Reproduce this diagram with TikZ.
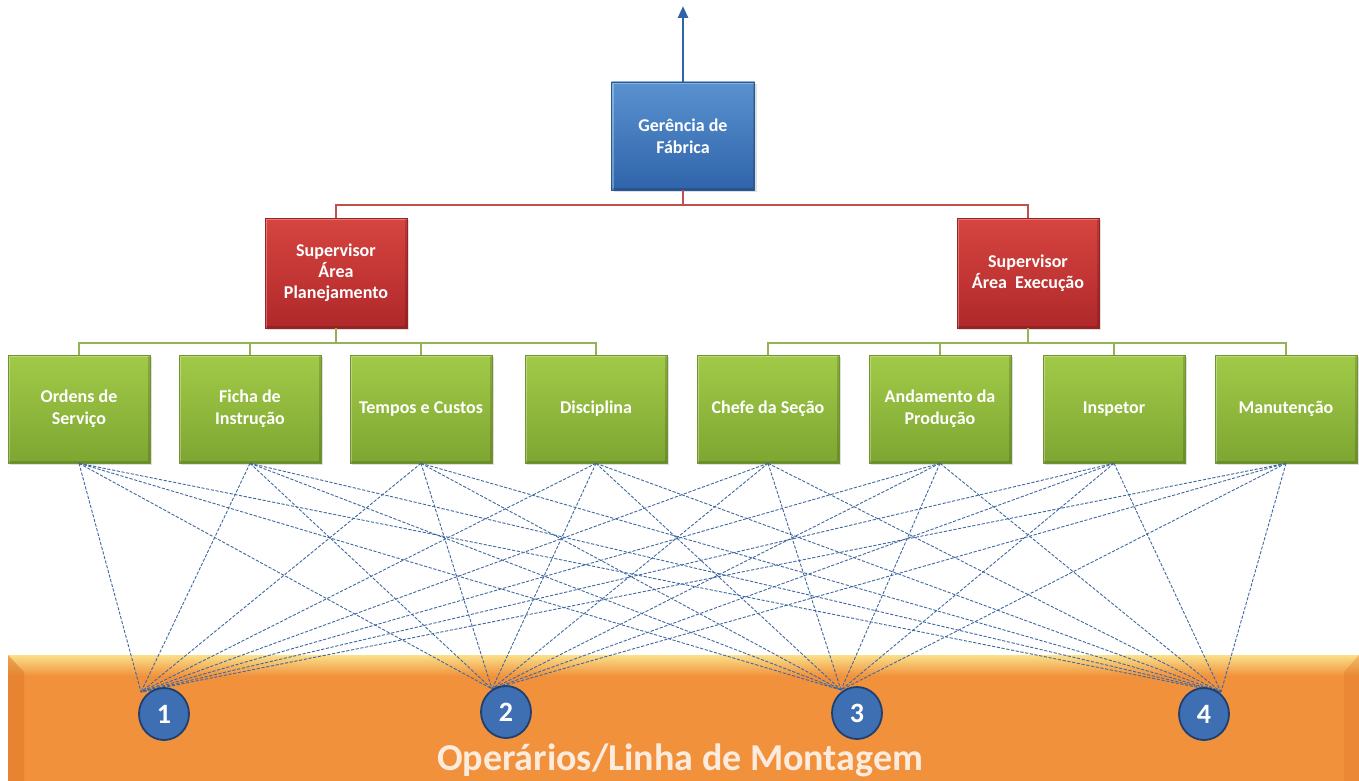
\documentclass[tikz,border=0pt]{standalone}
\usepackage{fontspec}
\setmainfont{Carlito}
\usetikzlibrary{arrows.meta,shadows,shapes.geometric}
\definecolor{bluetop}{HTML}{5A92D0}
\definecolor{bluebot}{HTML}{2F64AA}
\definecolor{blueedge}{HTML}{2A5895}
\definecolor{redtop}{HTML}{D64540}
\definecolor{redbot}{HTML}{B0282A}
\definecolor{rededge}{HTML}{9A2224}
\definecolor{greentop}{HTML}{A2CA48}
\definecolor{greenbot}{HTML}{7DA632}
\definecolor{greenedge}{HTML}{6E9330}
\definecolor{redline}{HTML}{C0504D}
\definecolor{greenline}{HTML}{93B354}
\definecolor{dashblue}{HTML}{3F68A0}
\definecolor{orangeband}{HTML}{F1913C}
\definecolor{orangelight}{HTML}{FBE08A}
\definecolor{orangedark}{HTML}{DE7A2A}
\definecolor{circfill}{HTML}{3D6FB2}
\definecolor{circedge}{HTML}{213F6E}
\definecolor{bandtext}{HTML}{FDEBDD}
\tikzset{
  boxbase/.style={rectangle, inner sep=2pt, align=center, text=white,
    font=\fontsize{18}{22}\selectfont\bfseries, line width=0.6pt,
    drop shadow={shadow xshift=2pt, shadow yshift=-2pt, opacity=0.25},
    path picture={
      \draw[white, opacity=0.30, line width=4pt]
        (path picture bounding box.south west) -- (path picture bounding box.north west)
        -- (path picture bounding box.north east);
      \draw[black, opacity=0.15, line width=4pt]
        (path picture bounding box.north east) -- (path picture bounding box.south east)
        -- (path picture bounding box.south west);
    }},
  bluebox/.style={boxbase, minimum width=143pt, minimum height=108pt,
    top color=bluetop, bottom color=bluebot, draw=blueedge},
  redbox/.style={boxbase, minimum width=142pt, minimum height=110pt,
    top color=redtop, bottom color=redbot, draw=rededge,
    font=\fontsize{18}{21}\selectfont\bfseries},
  greenbox/.style={boxbase, minimum width=142pt, minimum height=108pt,
    top color=greentop, bottom color=greenbot, draw=greenedge},
  redconn/.style={draw=redline, line width=2.6pt},
  greenconn/.style={draw=greenline, line width=2.6pt},
  upconn/.style={draw=bluebot, line width=2.6pt, -{Triangle[length=12pt,width=10pt]}},
  dashconn/.style={draw=dashblue, line width=0.9pt, dash pattern=on 3.2pt off 1.6pt},
  circnode/.style={ellipse, minimum width=50pt, minimum height=52pt, inner sep=0pt,
    fill=circfill, draw=circedge, line width=1.8pt, text=white,
    font=\fontsize{28}{28}\selectfont\bfseries},
}
\begin{document}
\begin{tikzpicture}[x=1pt,y=-1pt]
\useasboundingbox (0,0) rectangle (1359,781);
\fill[white] (0,0) rectangle (1359,781);

% orange band
\fill[orangeband] (8,655) rectangle (1359,781);
\shade[top color=orangelight, bottom color=orangeband] (8,655) rectangle (1359,676);
\fill[orangedark, opacity=0.55] (8,655) -- (24,672) -- (24,781) -- (8,781) -- cycle;
\fill[orangedark, opacity=0.35] (1359,655) -- (1344,672) -- (1344,781) -- (1359,781) -- cycle;
\node[font=\fontsize{38}{38}\selectfont\bfseries, text=bandtext] (band) at (680,760) {Operários/Linha de Montagem};

% top
\node[bluebox] (g) at (683,136) {Gerência de\\Fábrica};
\coordinate (top) at (683,6);
\draw[upconn] (g.north) -- (top);

\node[redbox] (s1) at (336,273) {Supervisor\\Área\\Planejamento};
\node[redbox] (s2) at (1028,273) {Supervisor\\Área~ Execução};
\coordinate (rbus) at (683,205);
\draw[redconn] (g.south) -- (rbus);
\draw[redconn] (rbus) -| (s1.north);
\draw[redconn] (rbus) -| (s2.north);

\node[greenbox] (b1) at (79,409) {Ordens de\\Serviço};
\node[greenbox] (b2) at (250,409) {Ficha de\\Instrução};
\node[greenbox] (b3) at (421,409) {Tempos e Custos};
\node[greenbox] (b4) at (596,409) {Disciplina};
\node[greenbox] (b5) at (768,409) {Chefe da Seção};
\node[greenbox] (b6) at (940,409) {Andamento da\\Produção};
\node[greenbox] (b7) at (1114,409) {Inspetor};
\node[greenbox] (b8) at (1286,409) {Manutenção};

\coordinate (lbus) at (336,343);
\coordinate (rbus2) at (1028,343);
\draw[greenconn] (s1.south) -- (lbus);
\draw[greenconn] (s2.south) -- (rbus2);
\foreach \b in {1,2,3,4} \draw[greenconn] (lbus) -| (b\b.north);
\foreach \b in {5,6,7,8} \draw[greenconn] (rbus2) -| (b\b.north);

% convergence points
\coordinate (t1) at (141,692);
\coordinate (t2) at (492,689);
\coordinate (t3) at (841,690);
\coordinate (t4) at (1221,692);

\foreach \b in {1,...,8}
  \foreach \c in {1,...,4}
    \draw[dashconn] (b\b.south) -- (t\c);

\node[circnode] (c1) at (164,714) {1};
\node[circnode] (c2) at (506,712) {2};
\node[circnode] (c3) at (857,713) {3};
\node[circnode] (c4) at (1204,714) {4};
\end{tikzpicture}
\end{document}
